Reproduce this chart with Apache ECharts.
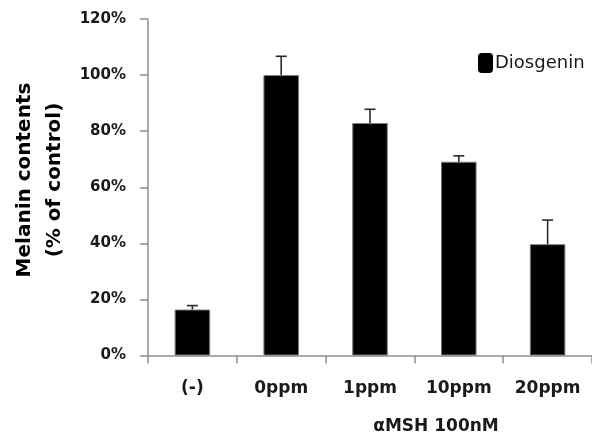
<!DOCTYPE html>
<html>
<head>
<meta charset="utf-8">
<script src="https://cdn.jsdelivr.net/npm/echarts@6/dist/echarts.min.js"></script>
<style>
html,body{margin:0;padding:0;background:#fff;}
#chart{width:592px;height:442px;}
</style>
</head>
<body>
<div id="chart"></div>
<script>
var categories = ['(-)', '0ppm', '1ppm', '10ppm', '20ppm'];
var values = [16.4, 100, 82.9, 69.1, 39.7];
var errors = [1.4, 6.7, 4.9, 2.1, 8.6];
var seriesName = 'Diosgenin';
var yTitle = 'Melanin contents\n(% of control)';
var xTitle = 'αMSH 100nM';
var yMin = 0, yMax = 120, yStep = 20;

var FONT = 'DejaVu Sans';
var chart = echarts.init(document.getElementById('chart'), null, {renderer: 'canvas'});

var errData = values.map(function (v, i) { return [i, v, errors[i]]; });

var option = {
  animation: false,
  backgroundColor: '#ffffff',
  grid: {left: 148, top: 19, width: 450, height: 336.5},
  legend: {
    data: [seriesName],
    left: 478, top: 53,
    padding: 0,
    itemWidth: 15, itemHeight: 20,
    icon: 'roundRect',
    itemStyle: {color: '#000', borderWidth: 0},
    textStyle: {fontFamily: FONT, fontSize: 18, color: '#1a1a1a', padding: [0, 0, 0, -3]}
  },
  xAxis: {
    type: 'category',
    data: categories,
    boundaryGap: true,
    axisLine: {lineStyle: {color: '#8e8e8e', width: 1.5}},
    axisTick: {show: true, length: 8, alignWithLabel: false, lineStyle: {color: '#8e8e8e', width: 1.5}},
    axisLabel: {fontFamily: FONT, fontWeight: 'bold', fontSize: 17, color: '#1a1a1a', margin: 25, interval: 0},
    splitLine: {show: false}
  },
  yAxis: {
    type: 'value',
    min: yMin, max: yMax, interval: yStep,
    axisLine: {show: true, lineStyle: {color: '#8e8e8e', width: 1.5}},
    axisTick: {show: true, length: 8, lineStyle: {color: '#8e8e8e', width: 1.5}},
    axisLabel: {fontFamily: FONT, fontWeight: 'bold', fontSize: 15, color: '#1a1a1a', margin: 22, formatter: '{value}%'},
    splitLine: {show: false}
  },
  graphic: [
    {
      type: 'text', x: 40, y: 180, rotation: Math.PI / 2,
      style: {text: yTitle, fontFamily: FONT, fontWeight: 'bold', fontSize: 20, lineHeight: 30,
        fill: '#000', align: 'center', verticalAlign: 'middle'}
    },
    {
      type: 'text', x: 436, y: 427,
      style: {text: xTitle, fontFamily: FONT, fontWeight: 'bold', fontSize: 17,
        fill: '#1a1a1a', align: 'center', verticalAlign: 'middle'}
    }
  ],
  series: [
    {
      name: seriesName,
      type: 'bar',
      data: values,
      barWidth: '40%',
      itemStyle: {color: '#000', borderColor: '#7a7a7a', borderWidth: 1}
    },
    {
      name: 'err',
      type: 'custom',
      data: errData,
      z: 5,
      renderItem: function (params, api) {
        var i = api.value(0), v = api.value(1), e = api.value(2);
        var p0 = api.coord([i, v]);
        var p1 = api.coord([i, v + e]);
        var hw = 5.5;
        var st = {stroke: '#2a2a2a', lineWidth: 1.6};
        return {
          type: 'group',
          children: [
            {type: 'line', shape: {x1: p0[0], y1: p0[1], x2: p1[0], y2: p1[1]}, style: st},
            {type: 'line', shape: {x1: p1[0] - hw, y1: p1[1], x2: p1[0] + hw, y2: p1[1]}, style: st}
          ]
        };
      }
    }
  ]
};
chart.setOption(option);
</script>
</body>
</html>
